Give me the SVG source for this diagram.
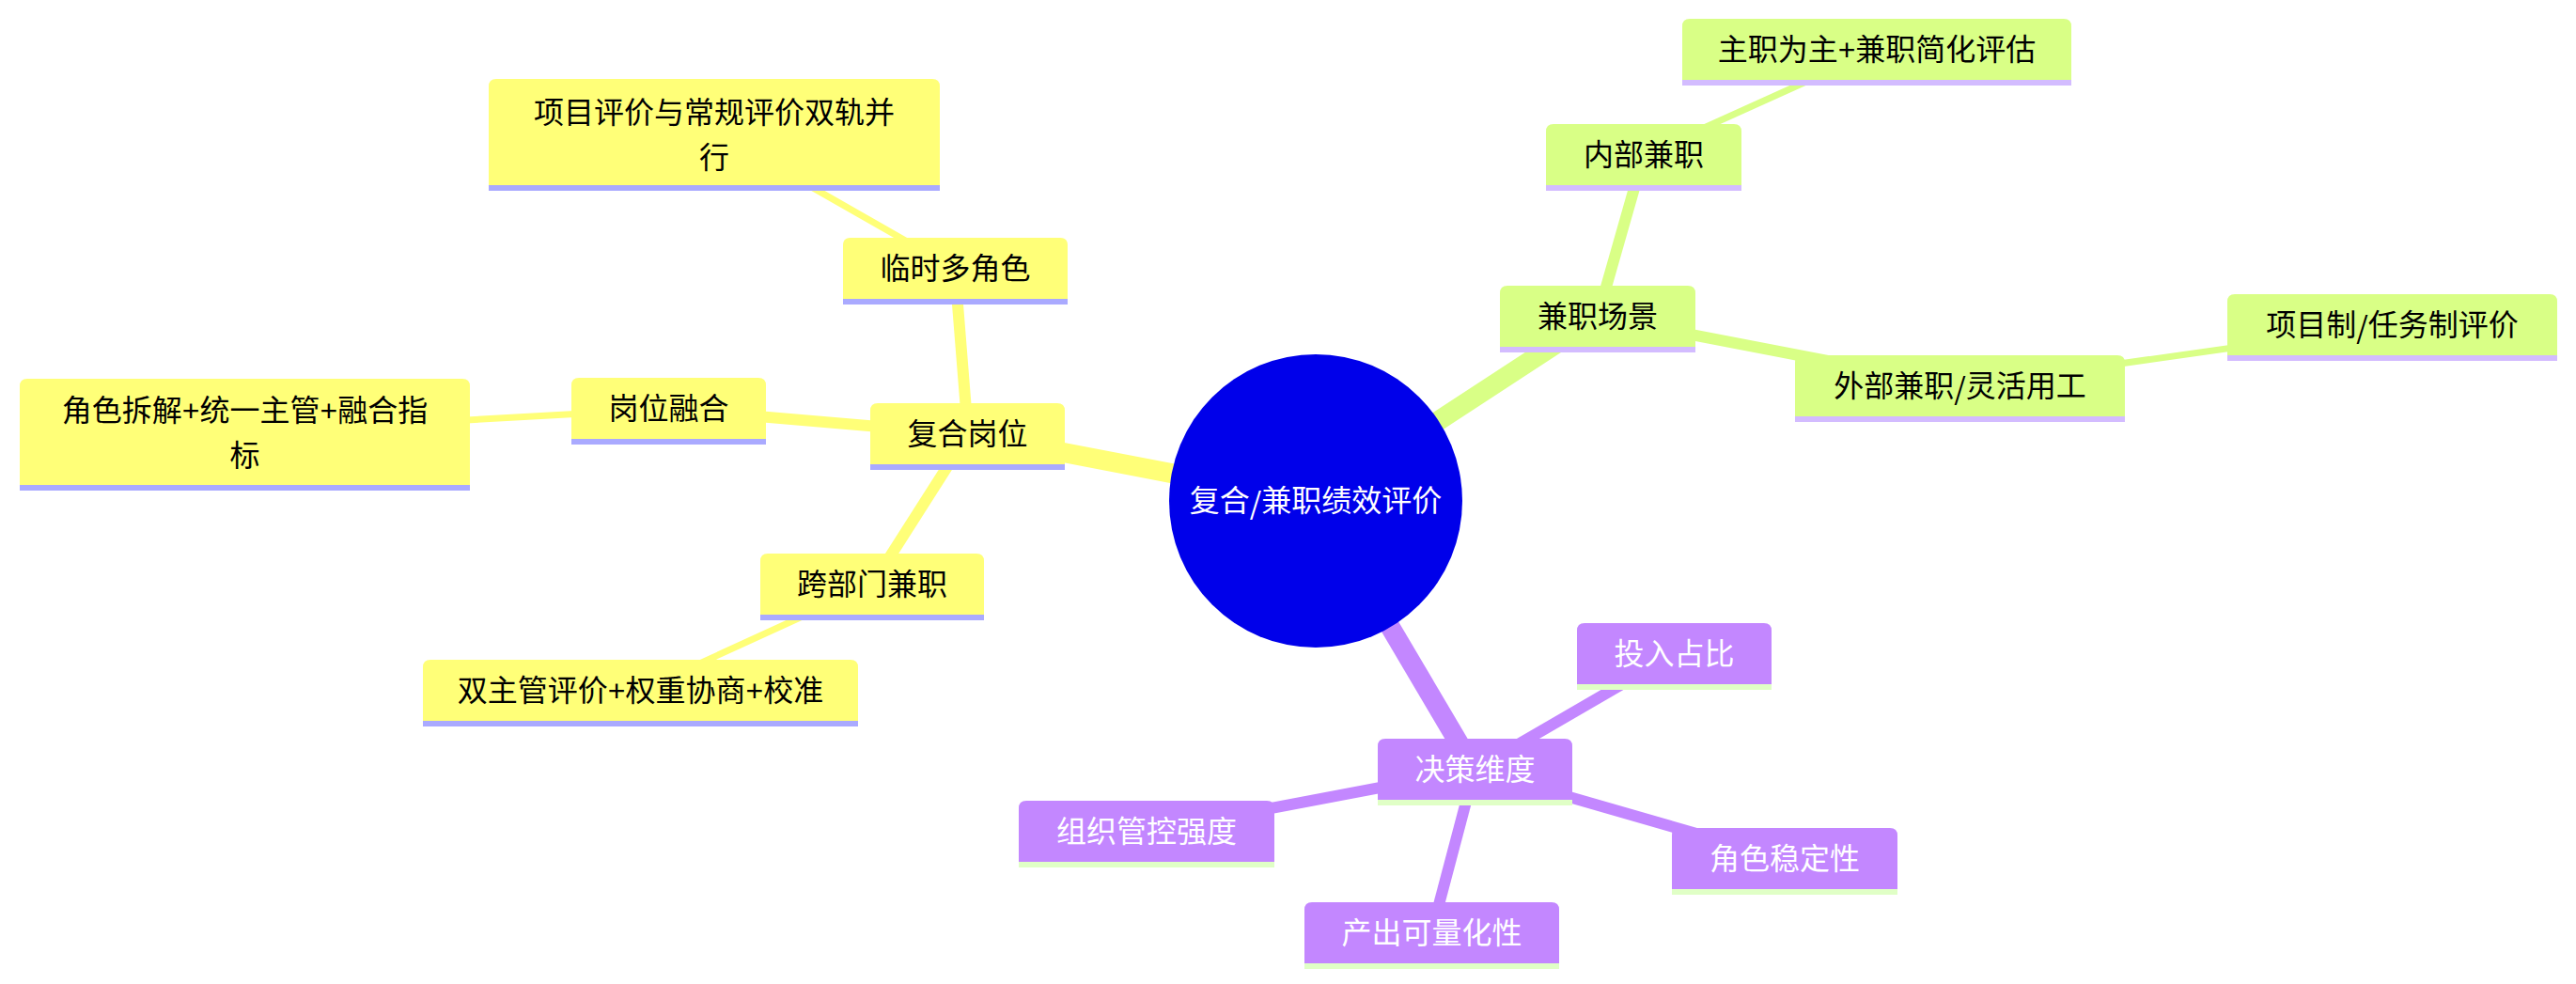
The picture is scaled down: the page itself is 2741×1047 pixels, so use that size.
<svg xmlns="http://www.w3.org/2000/svg" width="2741" height="1047" viewBox="0 0 2741 1047">
<style>
text{font-family:"Liberation Sans","Noto Sans CJK SC",sans-serif;font-size:32px;text-anchor:middle;dominant-baseline:central}
.sl{font-family:"Noto Sans CJK SC",sans-serif}
.y .b{fill:#ffff78}.y .u{fill:#aaaaff}.y text{fill:#000}
.g .b{fill:#d9ff86}.g .u{fill:#d3bcff}.g text{fill:#000}
.p .b{fill:#c387ff}.p .u{fill:#e0ffc6}.p text{fill:#fff}
.e{fill:none}
.ey{stroke:#ffff78}.eg{stroke:#d9ff86}.ep{stroke:#c387ff}
.d0{stroke-width:21}.d1{stroke-width:12}.d2{stroke-width:7}
</style>
<rect width="2741" height="1047" fill="#fff"/>
<g id="connectors">
<path class="e ey d0" d="M1400,533 L1030,462"/>
<path class="e eg d0" d="M1400,533 L1700,337"/>
<path class="e ep d0" d="M1400,533 L1569,819"/>
<path class="e ey d1" d="M1030,462 L711,435"/>
<path class="e ey d1" d="M1030,462 L928,622"/>
<path class="e ey d1" d="M1030,462 L1016,286"/>
<path class="e ey d2" d="M711,435 L260,460"/>
<path class="e ey d2" d="M928,622 L681,735"/>
<path class="e ey d2" d="M1016,286 L760,140"/>
<path class="e eg d1" d="M1700,337 L1749,165"/>
<path class="e eg d1" d="M1700,337 L2086,411"/>
<path class="e eg d2" d="M1749,165 L1997,53"/>
<path class="e eg d2" d="M2086,411 L2545,346"/>
<path class="e ep d1" d="M1569,819 L1781,696"/>
<path class="e ep d1" d="M1569,819 L1220,885"/>
<path class="e ep d1" d="M1569,819 L1899,914"/>
<path class="e ep d1" d="M1569,819 L1523,993"/>
</g>
<g id="root">
<circle cx="1400" cy="533" r="156" fill="#0000ea"/>
<text x="1400" y="533" fill="#fff">复合<tspan class="sl">/</tspan>兼职绩效评价</text>
</g>
<g id="n-fuhegangwei" class="y">
<path class="b" d="M926,494 V437 Q926,429 934,429 H1125 Q1133,429 1133,437 V494 Z"/>
<rect class="u" x="926" y="494" width="207" height="6"/>
<text x="1029.5" y="462">复合岗位</text>
</g>
<g id="n-gangweironghe" class="y">
<path class="b" d="M608,467 V410 Q608,402 616,402 H807 Q815,402 815,410 V467 Z"/>
<rect class="u" x="608" y="467" width="207" height="6"/>
<text x="711.5" y="435">岗位融合</text>
</g>
<g id="n-juesechaijie" class="y">
<path class="b" d="M21,516 V411 Q21,403 29,403 H492 Q500,403 500,411 V516 Z"/>
<rect class="u" x="21" y="516" width="479" height="6"/>
<text x="260.5" y="437">角色拆解+统一主管+融合指</text>
<text x="260.5" y="485">标</text>
</g>
<g id="n-kuabumen" class="y">
<path class="b" d="M809,654 V597 Q809,589 817,589 H1039 Q1047,589 1047,597 V654 Z"/>
<rect class="u" x="809" y="654" width="238" height="6"/>
<text x="928" y="622">跨部门兼职</text>
</g>
<g id="n-shuangzhuguan" class="y">
<path class="b" d="M450,767 V710 Q450,702 458,702 H905 Q913,702 913,710 V767 Z"/>
<rect class="u" x="450" y="767" width="463" height="6"/>
<text x="681.5" y="735">双主管评价+权重协商+校准</text>
</g>
<g id="n-linshi" class="y">
<path class="b" d="M897,318 V261 Q897,253 905,253 H1128 Q1136,253 1136,261 V318 Z"/>
<rect class="u" x="897" y="318" width="239" height="6"/>
<text x="1016.5" y="286">临时多角色</text>
</g>
<g id="n-xiangmupingjia" class="y">
<path class="b" d="M520,197 V92 Q520,84 528,84 H992 Q1000,84 1000,92 V197 Z"/>
<rect class="u" x="520" y="197" width="480" height="6"/>
<text x="760" y="120">项目评价与常规评价双轨并</text>
<text x="760" y="168">行</text>
</g>
<g id="n-jianzhichangjing" class="g">
<path class="b" d="M1596,369 V312 Q1596,304 1604,304 H1796 Q1804,304 1804,312 V369 Z"/>
<rect class="u" x="1596" y="369" width="208" height="6"/>
<text x="1700" y="337">兼职场景</text>
</g>
<g id="n-neibu" class="g">
<path class="b" d="M1645,197 V140 Q1645,132 1653,132 H1845 Q1853,132 1853,140 V197 Z"/>
<rect class="u" x="1645" y="197" width="208" height="6"/>
<text x="1749" y="165">内部兼职</text>
</g>
<g id="n-zhuzhi" class="g">
<path class="b" d="M1790,85 V28 Q1790,20 1798,20 H2196 Q2204,20 2204,28 V85 Z"/>
<rect class="u" x="1790" y="85" width="414" height="6"/>
<text x="1997" y="53">主职为主+兼职简化评估</text>
</g>
<g id="n-waibu" class="g">
<path class="b" d="M1910,443 V386 Q1910,378 1918,378 H2253 Q2261,378 2261,386 V443 Z"/>
<rect class="u" x="1910" y="443" width="351" height="6"/>
<text x="2085.5" y="411">外部兼职<tspan class="sl">/</tspan>灵活用工</text>
</g>
<g id="n-xiangmuzhi" class="g">
<path class="b" d="M2370,378 V321 Q2370,313 2378,313 H2713 Q2721,313 2721,321 V378 Z"/>
<rect class="u" x="2370" y="378" width="351" height="6"/>
<text x="2545.5" y="346">项目制<tspan class="sl">/</tspan>任务制评价</text>
</g>
<g id="n-juece" class="p">
<path class="b" d="M1466,851 V794 Q1466,786 1474,786 H1665 Q1673,786 1673,794 V851 Z"/>
<rect class="u" x="1466" y="851" width="207" height="6"/>
<text x="1569.5" y="819">决策维度</text>
</g>
<g id="n-touru" class="p">
<path class="b" d="M1678,728 V671 Q1678,663 1686,663 H1877 Q1885,663 1885,671 V728 Z"/>
<rect class="u" x="1678" y="728" width="207" height="6"/>
<text x="1781.5" y="696">投入占比</text>
</g>
<g id="n-zuzhi" class="p">
<path class="b" d="M1084,917 V860 Q1084,852 1092,852 H1348 Q1356,852 1356,860 V917 Z"/>
<rect class="u" x="1084" y="917" width="272" height="6"/>
<text x="1220" y="885">组织管控强度</text>
</g>
<g id="n-wendingxing" class="p">
<path class="b" d="M1779,946 V889 Q1779,881 1787,881 H2011 Q2019,881 2019,889 V946 Z"/>
<rect class="u" x="1779" y="946" width="240" height="6"/>
<text x="1899" y="914">角色稳定性</text>
</g>
<g id="n-chanchu" class="p">
<path class="b" d="M1388,1025 V968 Q1388,960 1396,960 H1651 Q1659,960 1659,968 V1025 Z"/>
<rect class="u" x="1388" y="1025" width="271" height="6"/>
<text x="1523.5" y="993">产出可量化性</text>
</g>
</svg>
